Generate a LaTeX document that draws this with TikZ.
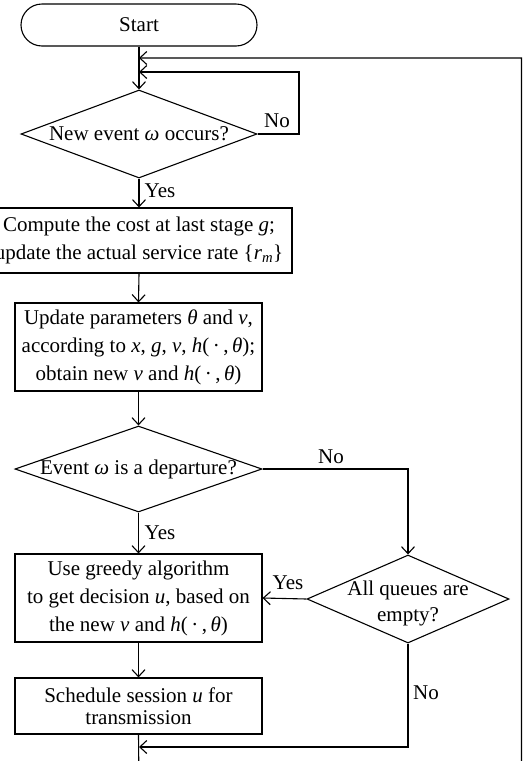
\documentclass[tikz,border=0pt]{standalone}
\usepackage{fontspec}
\setmainfont{Liberation Serif}
\usetikzlibrary{shapes.geometric,arrows.meta}
\newcommand{\mi}[1]{\textit{#1}}
\begin{document}
\begin{tikzpicture}[x=1pt,y=-1pt,
  every node/.style={font=\fontsize{21}{28}\selectfont, inner sep=0pt},
  flow/.style={line width=1.1pt},
  arr/.style={flow, -{Straight Barb[length=7pt,width=13pt,line width=1.1pt]}},
  procbox/.style={draw, line width=1.1pt, rectangle, align=center, minimum width=247pt, minimum height=88pt},
  decide/.style={draw, line width=1.1pt, diamond, inner sep=0pt},
  lbl/.style={font=\fontsize{21}{24}\selectfont}
]
\useasboundingbox (0,0) rectangle (529,761);
% nodes
\node[draw, line width=1.1pt, rectangle, rounded corners=21pt, minimum width=236pt, minimum height=42pt] (start) at (139,25) {Start};
\node[decide, minimum width=236pt, minimum height=88pt] (d1) at (139,134) {\makebox[0pt]{New event \mi{ω} occurs?}};
\node[procbox, minimum width=306pt, minimum height=65pt] (b1) at (139,240.5)
  {Compute the cost at last stage \mi{g};\\ update the actual service rate \{\mi{r}\textsubscript{\mi{m}}\}};
\node[procbox] (b2) at (138.5,347)
  {Update parameters \mi{θ} and \mi{ν},\\ according to \mi{x}, \mi{g}, \mi{ν}, \mi{h}(\,·\,,\,\mi{θ});\\ obtain new \mi{ν} and \mi{h}(\,·\,,\,\mi{θ})};
\node[decide, minimum width=247pt, minimum height=86pt] (d2) at (138.5,469) {\makebox[0pt]{Event \mi{ω} is a departure?}};
\node[procbox] (b3) at (138.5,598)
  {Use greedy algorithm\\ to get decision \mi{u}, based on\\ the new \mi{ν} and \mi{h}(\,·\,,\,\mi{θ})};
\node[decide, minimum width=202pt, minimum height=88pt] (d3) at (408,599) {};
\node[align=center, font=\fontsize{21}{26}\selectfont] (d3t) at (408,603) {All queues are\\ empty?};
\node[procbox, minimum height=56pt, font=\fontsize{21}{22.5}\selectfont] (b4) at (138.5,706)
  {Schedule session \mi{u} for\\ transmission};
% labels
\node[lbl] (no1) at (277,121) {No};
\node[lbl] (yes1) at (160,191) {Yes};
\node[lbl] (no2) at (331,457) {No};
\node[lbl] (yes2) at (160,533) {Yes};
\node[lbl] (yes3) at (288,583) {Yes};
\node[lbl] (no3) at (426,693) {No};
% coordinates
\coordinate (j1) at (139,58);
\coordinate (j2) at (139,72);
\coordinate (r1) at (299,72);
\coordinate (j3) at (139,747);
\coordinate (bot) at (139,790);
\coordinate (rtop) at (521.5,58);
% connectors
\draw[arr] (start.south) -- (d1.north);
\draw[arr] (d1.east) -| (r1) -- (j2);
\draw[arr] (d1.south) -- (b1.north);
\draw[arr] (b1.south) -- (b2.north);
\draw[arr] (b2.south) -- (d2.north);
\draw[arr] (d2.south) -- (b3.north);
\draw[arr] (d2.east) -| (d3.north);
\draw[arr] (d3.west) -- (b3.east);
\draw[arr] (b3.south) -- (b4.north);
\draw[arr] (d3.south) |- (j3);
\draw[arr] (b4.south) -- (bot) -| (rtop) -- (j1);
\end{tikzpicture}
\end{document}
